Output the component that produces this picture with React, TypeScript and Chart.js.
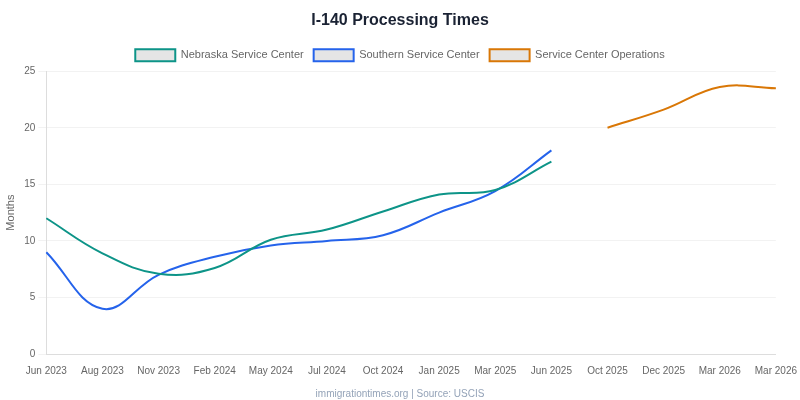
import React, { useEffect, useRef } from "react";
import { Chart, registerables } from "chart.js";

Chart.register(...registerables);

const categories = [
  "Jun 2023", "Aug 2023", "Nov 2023", "Feb 2024", "May 2024", "Jul 2024", "Oct 2024",
  "Jan 2025", "Mar 2025", "Jun 2025", "Oct 2025", "Dec 2025", "Mar 2026", "Mar 2026",
];
const nebraska = [12, 8.9, 7.1, 7.6, 10.1, 11, 12.6, 14.1, 14.5, 17, null, null, null, null];
const southern = [9, 4, 7, 8.6, 9.6, 10, 10.5, 12.5, 14.4, 18, null, null, null, null];
const operations = [null, null, null, null, null, null, null, null, null, null, 20, 21.6, 23.6, 23.5];
const yTicks = [0, 5, 10, 15, 20, 25];

export default function App() {
  const ref = useRef<HTMLCanvasElement>(null);
  useEffect(() => {
    if (!ref.current) return;
    const mk = (label: string, data: (number | null)[], color: string) => ({
      label,
      data,
      borderColor: color,
      backgroundColor: "rgba(0,0,0,0.1)",
      borderWidth: 2,
      pointRadius: 0,
      tension: 0.4,
      fill: false,
      spanGaps: false,
    });
    const chart = new Chart(ref.current, {
      type: "line",
      data: {
        labels: categories,
        datasets: [
          mk("Nebraska Service Center", nebraska, "#0d9488"),
          mk("Southern Service Center", southern, "#2563eb"),
          mk("Service Center Operations", operations, "#d97706"),
        ],
      },
      options: {
        animation: false,
        responsive: true,
        maintainAspectRatio: false,
        layout: { padding: 0 },
        plugins: {
          title: {
            display: true,
            text: "I-140 Processing Times",
            color: "#1a2233",
            font: { size: 16, weight: "bold" },
            padding: { top: 11, bottom: 9 },
          },
          legend: {
            display: true,
            labels: { color: "#666", font: { size: 11 }, boxWidth: 40, boxHeight: 12 },
          },
          subtitle: {
            display: true,
            position: "bottom",
            text: "immigrationtimes.org | Source: USCIS",
            color: "#94a3b8",
            font: { size: 10 },
            padding: { top: 8, bottom: 0 },
          },
          tooltip: { enabled: false },
        },
        scales: {
          x: {
            grid: { display: false, drawTicks: true },
            border: { color: "#ddd" },
            ticks: { color: "#666", font: { size: 10 }, autoSkip: false, maxRotation: 0 },
          },
          y: {
            min: 0,
            max: 25,
            afterBuildTicks: (axis: any) => {
              axis.ticks = yTicks.map((v) => ({ value: v }));
            },
            grid: { color: "rgba(0,0,0,0.05)" },
            border: { color: "#ddd" },
            ticks: { color: "#666", font: { size: 10 } },
            title: { display: true, text: "Months", color: "#666", font: { size: 11 } },
          },
        },
      },
    });
    return () => chart.destroy();
  }, []);
  return (
    <div style={{ position: "fixed", left: 0, top: 0, width: 800, height: 400, background: "#fff" }}>
      <canvas ref={ref} />
    </div>
  );
}
